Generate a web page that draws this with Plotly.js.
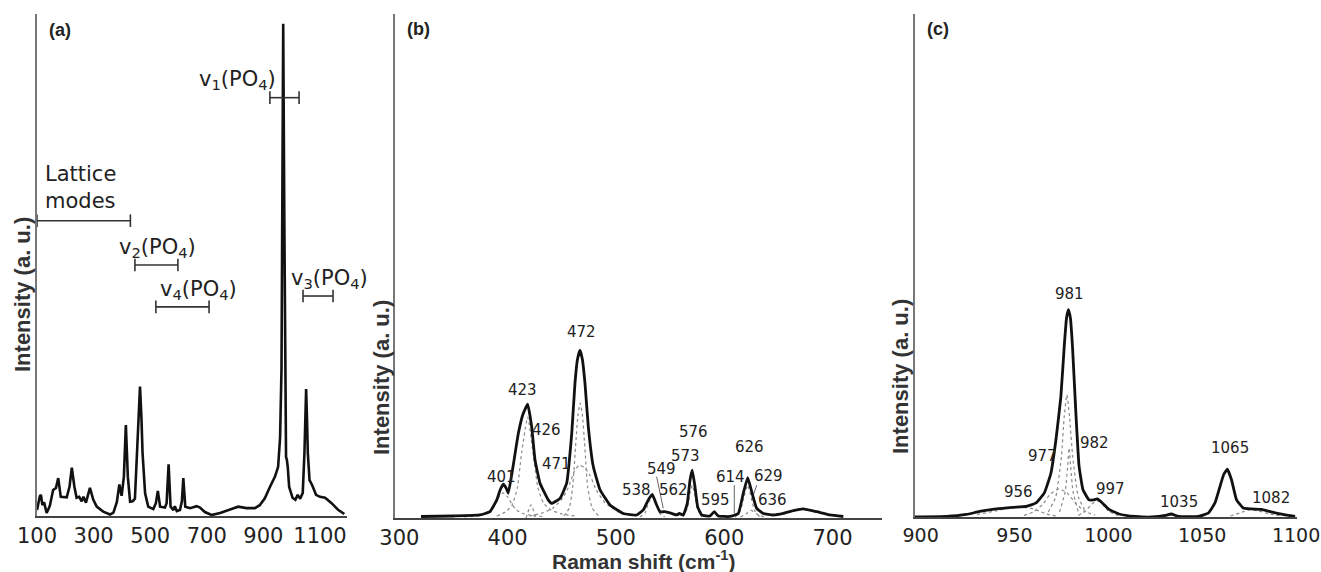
<!DOCTYPE html>
<html>
<head>
<meta charset="utf-8">
<script src="https://cdn.plot.ly/plotly-3.0.1.min.js"></script>
<style>html,body{margin:0;padding:0;background:#fff;}#chart{width:1321px;height:572px;}</style>
</head>
<body>
<div id="chart"></div>
<script>
// ---------- Panel (a): full Raman spectrum ----------
const aX = [100,105,110,114,119,125,134,145,157,167,175,184,195,205,215,223,232,240,249,258,264,273,287,299,311,334,358,370,382,391,399,407,414,421,429,438,446,454,459,464,469,473,482,493,511,520,527,535,552,558,565,572,582,587,594,605,612,617,624,641,664,676,693,717,747,782,811,840,870,887,905,923,941,952,959,964,967,970,974,978,980,983,986,991,1003,1013,1021,1030,1039,1045,1048,1051,1054,1057,1063,1072,1086,1100,1118,1141,1165,1186];
const aY = [0.012,0.03,0.04,0.043,0.022,0.028,0.006,0.02,0.053,0.057,0.077,0.039,0.038,0.038,0.06,0.098,0.06,0.037,0.039,0.03,0.039,0.027,0.057,0.033,0.019,0.009,0.003,0.007,0.028,0.064,0.041,0.08,0.185,0.08,0.029,0.03,0.035,0.128,0.21,0.263,0.2,0.128,0.046,0.019,0.014,0.026,0.051,0.019,0.017,0.026,0.105,0.019,0.012,0.02,0.01,0.012,0.03,0.077,0.019,0.016,0.02,0.017,0.008,0.002,0.006,0.014,0.019,0.016,0.016,0.022,0.036,0.059,0.08,0.1,0.16,0.3,0.6,1.0,0.6,0.25,0.12,0.114,0.1,0.059,0.037,0.033,0.043,0.035,0.047,0.128,0.2,0.258,0.2,0.128,0.073,0.063,0.043,0.039,0.037,0.026,0.012,0.004];

// band ranges in panel (a)
const bandNames = ["Lattice", "v2", "v4", "v1", "v3"];
const bandStart = [100, 446, 520, 923, 1040];
const bandEnd   = [430, 598, 708, 1026, 1146];
const bandLevel = [0.60, 0.51, 0.425, 0.85, 0.447];

// ---------- Panel (b): 300-750 cm-1 fit ----------
const bX = [320,350,374.5,383.7,390,393,396,398.5,400.6,405,409.9,414,418.5,422.2,425.3,429.9,437.5,440.7,448.4,454.5,459.2,462.2,464.5,466.8,469,471.4,474.5,479.1,485.3,494.5,506.8,519.2,525.3,529.9,533.6,537,540.7,545.3,551.5,556.1,558.5,562.2,565.9,568.4,570.5,573,575.5,579.2,586.9,590.8,594.5,605.3,613,617.6,621.7,625.4,630,636.1,645.3,654.6,663.8,673,685.4,697.7,710];
const bY = [0.003,0.004,0.006,0.0125,0.036,0.055,0.067,0.06,0.049,0.102,0.168,0.205,0.226,0.181,0.115,0.069,0.036,0.029,0.039,0.069,0.168,0.268,0.315,0.333,0.315,0.268,0.181,0.102,0.056,0.026,0.009,0.006,0.016,0.036,0.047,0.029,0.0125,0.0125,0.009,0.006,0.009,0.006,0.029,0.075,0.095,0.062,0.022,0.006,0.004,0.0125,0.004,0.003,0.009,0.049,0.08,0.052,0.019,0.009,0.006,0.009,0.0145,0.018,0.0125,0.006,0.003];

const b401X = [360,375,383,388,392,396,400,404,408,414,422,432];
const b401Y = [0.002,0.005,0.012,0.025,0.042,0.05,0.042,0.027,0.016,0.009,0.005,0.003];
const b423X = [390,398,404,409,413,418.5,424,428,433,440,450,462];
const b423Y = [0.004,0.012,0.025,0.06,0.13,0.2,0.12,0.06,0.03,0.016,0.008,0.004];
const b426X = [417,421.6,426];
const b426Y = [0.0,0.026,0.0];
const b471X = [420,432,442,450,456,461,466,471,476,482,490,500,512];
const b471Y = [0.004,0.01,0.02,0.037,0.06,0.09,0.105,0.1,0.085,0.055,0.03,0.015,0.006];
const b472X = [452,457,460,463,465,467,469,471,474,478,484];
const b472Y = [0.004,0.02,0.06,0.15,0.205,0.228,0.205,0.15,0.06,0.02,0.004];
const b538X = [522,527,530,533.6,537,540,545];
const b538Y = [0.002,0.01,0.03,0.042,0.03,0.01,0.002];
const b573X = [562,566,568.5,570.5,572.5,575,579];
const b573Y = [0.002,0.02,0.05,0.065,0.05,0.02,0.002];
const b626X = [610,615,618,621.7,625,628,633];
const b626Y = [0.002,0.015,0.04,0.065,0.04,0.015,0.002];
const b629X = [615,620,625,630,637];
const b629Y = [0.002,0.008,0.015,0.008,0.002];

const bLabels = ["401","423","426","471","472","538","549","562","573","576","595","614","626","629","636"];
const bLabX = [394.8,413.7,436,445.3,468,519.2,542.2,553,563.8,571.8,591.5,606,622.9,641.3,644.4];
const bLabY = [0.082,0.254,0.175,0.108,0.37,0.056,0.097,0.056,0.124,0.17,0.036,0.082,0.14,0.083,0.036];

// leader lines
const lead549X = [537.6, 543.7], lead549Y = [0.082, 0.019];
const lead614X = [609.3, 609.3], lead614Y = [0.065, 0.009];
const lead629X = [630, 625.4],   lead629Y = [0.065, 0.036];

// ---------- Panel (c): 900-1100 cm-1 fit ----------
const cX = [897,913.8,924.4,931.4,940.3,949.1,956.2,961.5,965.9,969.4,972.1,974.7,976.5,977.7,978.7,979.8,980.9,982.7,984.4,986.5,989.7,992,994.1,996.8,1000.3,1005.6,1014.5,1023.3,1030.4,1033.5,1037.4,1048,1053.3,1056.8,1059.5,1061.5,1063.4,1065.6,1068.3,1071.8,1076.2,1081.5,1086.8,1093,1099.5];
const cY = [0,0.001,0.005,0.011,0.016,0.019,0.021,0.028,0.048,0.087,0.154,0.239,0.339,0.395,0.412,0.395,0.339,0.207,0.101,0.054,0.034,0.034,0.036,0.028,0.015,0.006,0.001,0,0.003,0.006,0.001,0.001,0.008,0.028,0.061,0.085,0.095,0.074,0.034,0.018,0.016,0.015,0.01,0.005,0.001];

const c977X = [968,972,975,976.5,977.9,979.3,981,984,988];
const c977Y = [0.01,0.04,0.12,0.2,0.243,0.2,0.12,0.04,0.01];
const c982X = [974,977,978.3,979.1,979.9,981.2,984];
const c982Y = [0.01,0.05,0.1,0.137,0.1,0.05,0.01];
const cBroadX = [955,960,965,969,973.8,978,982,987,993];
const cBroadY = [0.003,0.01,0.025,0.045,0.056,0.048,0.03,0.012,0.004];
const c956X = [930,940,950,958,963,967,972];
const c956Y = [0.005,0.012,0.02,0.018,0.012,0.006,0.002];
const c997X = [984,988,991,994.1,997,1000,1005];
const c997Y = [0.003,0.012,0.025,0.032,0.025,0.012,0.003];
const c1082X = [1065,1070,1075,1080,1086,1092];
const c1082Y = [0.002,0.008,0.014,0.012,0.006,0.002];

const cLabels = ["981","977","982","956","997","1035","1065","1082"];
const cLabX = [979.1,965,992.8,952.2,1001.2,1037.8,1064.8,1086.8];
const cLabY = [0.443,0.121,0.148,0.05,0.055,0.03,0.137,0.037];

// tick labels
const aTicks = [100,300,500,700,900,1100];
const bTicks = [300,400,500,600,700];
const cTicks = [900,950,1000,1050,1100];

// ---------- build ----------
const BLACK = '#111';
const GRAY = '#8a8a8a';
const traces = [];
function mainLine(x, y, xa, ya, w) {
  traces.push({x: x, y: y, xaxis: xa, yaxis: ya, mode: 'lines', type: 'scatter', cliponaxis: false,
    line: {color: BLACK, width: w, shape: 'spline', smoothing: 0.35}, hoverinfo: 'skip'});
}
function comp(x, y, xa, ya) {
  traces.push({x: x, y: y, xaxis: xa, yaxis: ya, mode: 'lines', type: 'scatter',
    line: {color: GRAY, width: 1.2, dash: 'dot', shape: 'spline', smoothing: 0.5}, hoverinfo: 'skip'});
}
function lead(x, y) {
  traces.push({x: x, y: y, xaxis: 'x2', yaxis: 'y2', mode: 'lines', type: 'scatter',
    line: {color: '#666', width: 1}, hoverinfo: 'skip'});
}

comp(b401X, b401Y, 'x2', 'y2');
comp(b423X, b423Y, 'x2', 'y2');
comp(b426X, b426Y, 'x2', 'y2');
comp(b471X, b471Y, 'x2', 'y2');
comp(b472X, b472Y, 'x2', 'y2');
comp(b538X, b538Y, 'x2', 'y2');
comp(b573X, b573Y, 'x2', 'y2');
comp(b626X, b626Y, 'x2', 'y2');
comp(b629X, b629Y, 'x2', 'y2');
comp(c977X, c977Y, 'x3', 'y3');
comp(c982X, c982Y, 'x3', 'y3');
comp(cBroadX, cBroadY, 'x3', 'y3');
comp(c956X, c956Y, 'x3', 'y3');
comp(c997X, c997Y, 'x3', 'y3');
comp(c1082X, c1082Y, 'x3', 'y3');
lead(lead549X, lead549Y);
lead(lead614X, lead614Y);
lead(lead629X, lead629Y);

traces.push({x: aX, y: aY, xaxis: 'x', yaxis: 'y', mode: 'lines', type: 'scatter',
  line: {color: BLACK, width: 2.6}, hoverinfo: 'skip'});
mainLine(bX, bY, 'x2', 'y2', 2.8);
mainLine(cX, cY, 'x3', 'y3', 2.8);

for (let i = 0; i < bandNames.length; i++) {
  traces.push({x: [bandStart[i], bandEnd[i]], y: [bandLevel[i], bandLevel[i]], xaxis: 'x', yaxis: 'y',
    mode: 'lines+markers', type: 'scatter', cliponaxis: false,
    line: {color: '#333', width: 1.6},
    marker: {symbol: 'line-ns-open', size: 9, line: {color: '#333', width: 1.6}}, hoverinfo: 'skip'});
}

const TXT = '#222';
function xax(domain, range, ticks, fsize) {
  return {domain: domain, range: range, tickvals: ticks, ticktext: ticks.map(String), ticks: '', ticklen: 0,
    ticklabeloverflow: 'allow', automargin: false,
    showline: true, linecolor: '#444', linewidth: 2, showgrid: false, zeroline: false,
    tickfont: {family: 'DejaVu Sans, sans-serif', size: fsize, color: TXT}, fixedrange: true};
}
function yax(domain, range, anchor) {
  return {domain: domain, range: range, anchor: anchor, showline: true, linecolor: '#777', linewidth: 2,
    showgrid: false, zeroline: false, showticklabels: false, ticks: '', fixedrange: true};
}

const annotations = [];
const lblFont = {family: 'DejaVu Sans, sans-serif', size: 15, color: TXT};
for (let i = 0; i < bLabels.length; i++) {
  annotations.push({x: bLabX[i], y: bLabY[i], xref: 'x2', yref: 'y2', text: bLabels[i], showarrow: false,
    font: lblFont, xanchor: 'center', yanchor: 'middle'});
}
for (let i = 0; i < cLabels.length; i++) {
  annotations.push({x: cLabX[i], y: cLabY[i], xref: 'x3', yref: 'y3', text: cLabels[i], showarrow: false,
    font: lblFont, xanchor: 'center', yanchor: 'middle'});
}
const bigFont = {family: 'DejaVu Sans, sans-serif', size: 21, color: TXT};
annotations.push({x: 121, y: 0.667, xref: 'x', yref: 'y', text: 'Lattice<br>modes', showarrow: false,
  font: bigFont, xanchor: 'left', yanchor: 'middle', align: 'left'});
annotations.push({x: 808, y: 0.885, xref: 'x', yref: 'y', text: 'v<sub>1</sub>(PO<sub>4</sub>)', showarrow: false,
  font: bigFont, xanchor: 'center', yanchor: 'middle'});
annotations.push({x: 526, y: 0.545, xref: 'x', yref: 'y', text: 'v<sub>2</sub>(PO<sub>4</sub>)', showarrow: false,
  font: bigFont, xanchor: 'center', yanchor: 'middle'});
annotations.push({x: 669, y: 0.459, xref: 'x', yref: 'y', text: 'v<sub>4</sub>(PO<sub>4</sub>)', showarrow: false,
  font: bigFont, xanchor: 'center', yanchor: 'middle'});
annotations.push({x: 1132, y: 0.482, xref: 'x', yref: 'y', text: 'v<sub>3</sub>(PO<sub>4</sub>)', showarrow: false,
  font: bigFont, xanchor: 'center', yanchor: 'middle'});

const panelFont = {family: 'Liberation Sans, Arial, sans-serif', size: 18, color: TXT};
annotations.push({x: 47/1321, y: 1 - 30/572, xref: 'paper', yref: 'paper', text: '<b>(a)</b>', showarrow: false,
  font: panelFont, xanchor: 'left', yanchor: 'middle'});
annotations.push({x: 405/1321, y: 1 - 29/572, xref: 'paper', yref: 'paper', text: '<b>(b)</b>', showarrow: false,
  font: panelFont, xanchor: 'left', yanchor: 'middle'});
annotations.push({x: 925/1321, y: 1 - 29/572, xref: 'paper', yref: 'paper', text: '<b>(c)</b>', showarrow: false,
  font: panelFont, xanchor: 'left', yanchor: 'middle'});

const titleFont = {family: 'Liberation Sans, Arial, sans-serif', size: 22, color: '#333'};
annotations.push({x: 22/1321, y: 1 - 295/572, xref: 'paper', yref: 'paper', text: '<b>Intensity (a. u.)</b>',
  textangle: -90, showarrow: false, font: titleFont, xanchor: 'center', yanchor: 'middle'});
annotations.push({x: 381/1321, y: 1 - 378/572, xref: 'paper', yref: 'paper', text: '<b>Intensity (a. u.)</b>',
  textangle: -90, showarrow: false, font: titleFont, xanchor: 'center', yanchor: 'middle'});
annotations.push({x: 900/1321, y: 1 - 377/572, xref: 'paper', yref: 'paper', text: '<b>Intensity (a. u.)</b>',
  textangle: -90, showarrow: false, font: titleFont, xanchor: 'center', yanchor: 'middle'});
annotations.push({x: 643/1321, y: 1 - 560/572, xref: 'paper', yref: 'paper', text: '<b>Raman shift (cm<sup>-1</sup>)</b>',
  showarrow: false, font: {family: 'Liberation Sans, Arial, sans-serif', size: 21, color: '#333'},
  xanchor: 'center', yanchor: 'middle'});

const layout = {
  width: 1321, height: 572,
  margin: {l: 0, r: 0, t: 0, b: 0},
  paper_bgcolor: '#fff', plot_bgcolor: '#fff',
  showlegend: false,
  xaxis: xax([37/1321, 347/1321], [100, 1195.4], aTicks, 21),
  yaxis: yax([56/572, 558/572], [0, 1.02], 'x'),
  xaxis2: Object.assign(xax([395/1321, 882/1321], [296, 745.7], bTicks, 21), {anchor: 'y2'}),
  yaxis2: yax([54/572, 558/572], [0, 1], 'x2'),
  xaxis3: Object.assign(xax([915/1321, 1297/1321], [897, 1100.5], cTicks, 19), {anchor: 'y3'}),
  yaxis3: yax([55/572, 558/572], [0, 1], 'x3'),
  annotations: annotations
};
layout.xaxis.anchor = 'y';

Plotly.newPlot('chart', traces, layout, {staticPlot: true, displayModeBar: false});
</script>
</body>
</html>
